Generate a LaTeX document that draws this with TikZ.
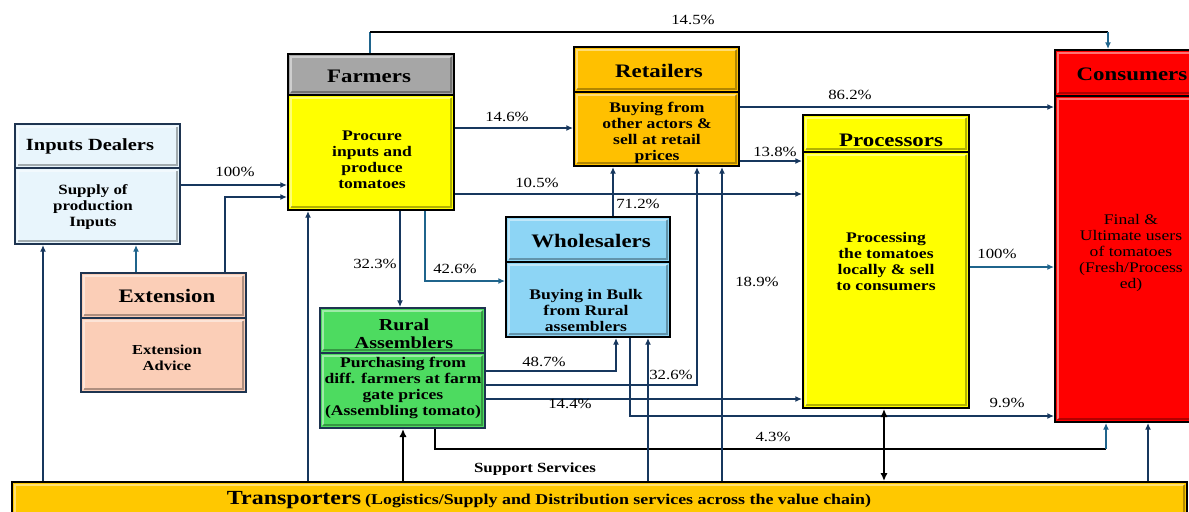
\documentclass[tikz,border=0pt]{standalone}
\usepackage{fontspec}
\setmainfont{Liberation Serif}[FakeStretch=1.2]
\usetikzlibrary{arrows.meta,fit}
\definecolor{navy}{RGB}{23,55,94}
\definecolor{tealline}{RGB}{31,100,140}
\definecolor{inpfill}{RGB}{232,245,252}
\definecolor{greyhdr}{RGB}{166,166,166}
\definecolor{yel}{RGB}{255,255,0}
\definecolor{orng}{RGB}{255,192,0}
\definecolor{trans}{RGB}{255,200,0}
\definecolor{redc}{RGB}{255,0,0}
\definecolor{skyb}{RGB}{141,213,245}
\definecolor{peach}{RGB}{251,206,183}
\definecolor{grn}{RGB}{77,219,96}
\definecolor{bordnavy}{RGB}{30,52,80}
\tikzset{
  bevel/.style={path picture={
    \path (path picture bounding box.south west) coordinate (bsw)
          (path picture bounding box.north east) coordinate (bne);
    \draw[white, opacity=.45, line width=1.3pt] ([shift={(2.4pt,2.4pt)}]bsw) |- ([shift={(-2.4pt,-2.4pt)}]bne);
    \draw[black, opacity=.3, line width=1.3pt] ([shift={(2.4pt,2.4pt)}]bsw) -| ([shift={(-2.4pt,-2.4pt)}]bne);
  }},
  sec/.style={inner sep=0pt, line width=1.5pt, bevel},
  hdr/.style={font=\bfseries\fontsize{14.3}{16}\selectfont, align=center, inner sep=0pt},
  bodytxt/.style={font=\bfseries\fontsize{11}{12}\selectfont, align=center, inner sep=0pt},
  pct/.style={font=\fontsize{10.5}{12}\selectfont, inner sep=0pt},
  conn/.style={draw=navy, line width=1.3pt, -{Latex[length=5pt,width=4.5pt]}},
  tconn/.style={draw=tealline, line width=1.3pt, -{Latex[length=5pt,width=4.5pt]}},
  blkline/.style={draw=black, line width=1.5pt},
  tline/.style={draw=tealline, line width=1.3pt},
  bconn/.style={draw=black, line width=1.8pt, -{Latex[length=6pt,width=5.5pt]}},
}
\begin{document}
\begin{tikzpicture}[x=0.75pt,y=-0.75pt]
\useasboundingbox (0,0) rectangle (1189,511);

% ---------- boxes ----------
% Inputs Dealers
\node[sec, draw=bordnavy, fill=inpfill, fit={(15,124)(180,168)}] (inpH) {};
\node[sec, draw=bordnavy, fill=inpfill, fit={(15,168)(180,244)}] (inpB) {};
\node[hdr, font=\bfseries\fontsize{12.8}{15}\selectfont] (inpHT) at (90,146) {Inputs Dealers};
\node[bodytxt, font=\bfseries\fontsize{10.6}{12}\selectfont] (inpBT) at (93,207) {Supply of\\production\\Inputs};

% Farmers
\node[sec, draw=black, fill=greyhdr, fit={(288,54)(454,95)}] (farmH) {};
\node[sec, draw=black, fill=yel, fit={(288,95)(454,210)}] (farmB) {};
\node[hdr] (farmHT) at (369,76) {Farmers};
\node[bodytxt] (farmBT) at (372,160) {Procure\\inputs and\\produce\\tomatoes};

% Retailers
\node[sec, draw=black, fill=orng, fit={(574,47)(739,92)}] (retH) {};
\node[sec, draw=black, fill=orng, fit={(574,92)(739,166)}] (retB) {};
\node[hdr] (retHT) at (659,71) {Retailers};
\node[bodytxt] (retBT) at (657,133) {Buying from\\other actors \&\\sell at retail\\prices};

% Consumers
\node[sec, draw=black, fill=redc, fit={(1055,50)(1215,96)}] (consH) {};
\node[sec, draw=black, fill=redc, fit={(1055,96)(1215,422)}] (consB) {};
\node[hdr] (consHT) at (1132,74) {Consumers};
\node[bodytxt, font=\fontsize{11}{12}\selectfont] (consBT) at (1131,253) {Final \&\\Ultimate users\\of tomatoes\\(Fresh/Process\\ed)};

% Processors
\node[sec, draw=black, fill=yel, fit={(803,115)(969,152)}] (procH) {};
\node[sec, draw=black, fill=yel, fit={(803,152)(969,408)}] (procB) {};
\node[hdr] (procHT) at (891,140) {Processors};
\node[bodytxt] (procBT) at (886,261) {Processing\\the tomatoes\\locally \& sell\\to consumers};

% Wholesalers
\node[sec, draw=black, fill=skyb, fit={(506,217)(670,262)}] (wholH) {};
\node[sec, draw=black, fill=skyb, fit={(506,262)(670,337)}] (wholB) {};
\node[hdr] (wholHT) at (591,241) {Wholesalers};
\node[bodytxt] (wholBT) at (586,310) {Buying in Bulk\\from Rural\\assemblers};

% Extension
\node[sec, draw=bordnavy, fill=peach, fit={(81,273)(246,318)}] (extH) {};
\node[sec, draw=bordnavy, fill=peach, fit={(81,318)(246,392)}] (extB) {};
\node[hdr] (extHT) at (167,296) {Extension};
\node[bodytxt, font=\bfseries\fontsize{10.3}{12}\selectfont] (extBT) at (167,358) {Extension\\Advice};

% Rural Assemblers
\node[sec, draw=bordnavy, fill=grn, fit={(320,308)(485,353)}] (rurH) {};
\node[sec, draw=bordnavy, fill=grn, fit={(320,353)(485,428)}] (rurB) {};
\node[hdr, font=\bfseries\fontsize{12.6}{13.5}\selectfont] (rurHT) at (404,334) {Rural\\Assemblers};
\node[bodytxt] (rurBT) at (403,388) {Purchasing from\\diff. farmers at farm\\gate prices\\(Assembling tomato)};

% Transporters
\node[sec, draw=black, fill=trans, fit={(12,482)(1187,530)}] (transp) {};
\node[inner sep=0pt, font=\bfseries] (transpT) at (549,500) {{\fontsize{15}{16}\selectfont Transporters} {\fontsize{11.2}{12}\selectfont(Logistics/Supply and Distribution services across the value chain)}};

% Support services
\node[inner sep=0pt, font=\bfseries\fontsize{10.5}{12}\selectfont] (supp) at (535,469) {Support Services};

% ---------- connectors ----------
% Farmers -> Consumers (14.5%)
\coordinate (c1) at (370,32);
\coordinate (c2) at (1108,32);
\draw[tline] (farmH.north -| c1) -- (c1);
\draw[blkline] (c1) -- (c2);
\draw[tconn] (c2) -- (consH.north -| c2);
\node[pct] (p145) at (693,20) {14.5\%};

% Inputs -> Farmers
\draw[conn] (inpB.east |- 0,185) -- (farmB.west |- 0,185);
\node[pct] (p100a) at (235,172) {100\%};
% Extension -> Farmers
\draw[conn] (extH.north -| 225,0) |- (farmB.west |- 0,197);
% Extension -> Inputs
\draw[tconn] (extH.north -| 136,0) -- (inpB.south -| 136,0);
% Transporters -> Inputs
\draw[conn] (transp.north -| 43,0) -- (inpB.south -| 43,0);
% Transporters -> Farmers
\draw[conn] (transp.north -| 308,0) -- (farmB.south -| 308,0);

% Farmers -> Retailers
\draw[conn] (farmB.east |- 0,128) -- (retB.west |- 0,128);
\node[pct] (p146) at (507,117) {14.6\%};
% Farmers -> Processors
\draw[conn] (farmB.east |- 0,194) -- (procB.west |- 0,194);
\node[pct] (p105) at (537,183) {10.5\%};
% Farmers -> Rural
\draw[conn] (farmB.south -| 400,0) -- (rurH.north -| 400,0);
\node[pct] (p323) at (375,264) {32.3\%};
% Farmers -> Wholesalers
\draw[tconn] (farmB.south -| 425,0) |- (wholB.west |- 0,281);
\node[pct] (p426) at (455,269) {42.6\%};

% Wholesalers -> Retailers
\draw[conn] (wholH.north -| 613,0) -- (retB.south -| 613,0);
\node[pct] (p712) at (638,204) {71.2\%};
% Retailers -> Consumers
\draw[conn] (retB.east |- 0,107) -- (consB.west |- 0,107);
\node[pct] (p862) at (850,95) {86.2\%};
% Retailers -> Processors
\draw[conn] (retB.east |- 0,161) -- (procB.west |- 0,161);
\node[pct] (p138) at (775,152) {13.8\%};
% Processors -> Consumers
\draw[tconn] (procB.east |- 0,267) -- (consB.west |- 0,267);
\node[pct] (p100b) at (997,254) {100\%};

% Rural -> Wholesalers
\draw[conn] (rurB.east |- 0,371) -| (wholB.south -| 616,0);
\node[pct] (p487) at (544,362) {48.7\%};
% Rural -> Retailers
\draw[conn] (rurB.east |- 0,385) -| (retB.south -| 697,0);
\node[pct] (p326) at (671,375) {32.6\%};
% Rural -> Processors
\draw[conn] (rurB.east |- 0,399) -- (procB.west |- 0,399);
\node[pct] (p144) at (570,404) {14.4\%};
% Wholesalers -> Consumers
\draw[conn] (wholB.south -| 630,0) |- (consB.west |- 0,416);
\node[pct] (p99) at (1007,403) {9.9\%};
% Rural -> Consumers (4.3%)
\coordinate (c3) at (1106,449);
\draw[blkline] (rurB.south -| 435,0) |- (c3);
\draw[tconn] (c3) -- (consB.south -| c3);
\node[pct] (p43) at (773,437) {4.3\%};

% Transporters -> others
\draw[bconn] (transp.north -| 403,0) -- (rurB.south -| 403,0);
\draw[conn] (transp.north -| 648,0) -- (wholB.south -| 648,0);
\draw[conn] (transp.north -| 722,0) -- (retB.south -| 722,0);
\node[pct] (p189) at (757,282) {18.9\%};
\draw[bconn, {Latex[length=6pt,width=5.5pt]}-{Latex[length=6pt,width=5.5pt]}] (procB.south -| 884,0) -- (transp.north -| 884,0);
\draw[conn] (transp.north -| 1148,0) -- (consB.south -| 1148,0);
\end{tikzpicture}
\end{document}
